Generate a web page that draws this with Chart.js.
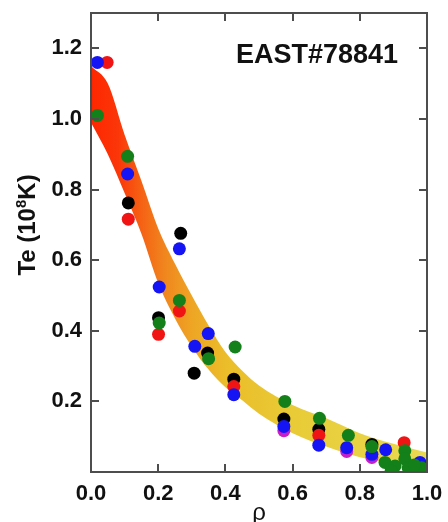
<!DOCTYPE html>
<html><head><meta charset="utf-8">
<script src="https://cdn.jsdelivr.net/npm/chart.js@4/dist/chart.umd.min.js"></script>
<style>html,body{margin:0;padding:0;background:#fff}#wrap{width:448px;height:522px}</style>
</head><body><div id="wrap"><canvas id="c" width="448" height="522"></canvas></div>
<script>
// ---- data ----
const xTicks = [0.0, 0.2, 0.4, 0.6, 0.8, 1.0];
const yTicks = [0.2, 0.4, 0.6, 0.8, 1.0, 1.2];
const shotLabel = 'EAST#78841';

// fitted band (upper / lower edge)
const bandRho   = [0, 0.05, 0.1, 0.15, 0.2, 0.25, 0.3, 0.35, 0.4, 0.45, 0.5, 0.6, 0.7, 0.8, 0.9, 1.0];
const bandUpper = [1.15, 1.10, 0.955, 0.825, 0.69, 0.59, 0.50, 0.415, 0.34, 0.287, 0.245, 0.19, 0.152, 0.11, 0.08, 0.055];
const bandLower = [0.99, 0.90, 0.79, 0.675, 0.535, 0.435, 0.355, 0.29, 0.24, 0.203, 0.165, 0.11, 0.072, 0.042, 0.026, 0.012];

// measured points
const blackRho = [0.111, 0.267, 0.201, 0.347, 0.307, 0.425, 0.574, 0.678, 0.836];
const blackTe  = [0.762, 0.676, 0.437, 0.337, 0.280, 0.263, 0.150, 0.121, 0.078];
const redRho   = [0.048, 0.111, 0.263, 0.201, 0.425, 0.678, 0.932];
const redTe    = [1.160, 0.716, 0.456, 0.390, 0.242, 0.104, 0.083];
const blueRho  = [0.019, 0.109, 0.263, 0.203, 0.309, 0.349, 0.425, 0.574, 0.678, 0.761, 0.836, 0.877, 0.979];
const blueTe   = [1.160, 0.844, 0.632, 0.524, 0.356, 0.392, 0.219, 0.129, 0.076, 0.069, 0.050, 0.063, 0.027];
const greenRho = [0.019, 0.109, 0.263, 0.203, 0.350, 0.429, 0.577, 0.680, 0.766, 0.836, 0.934, 0.875, 0.905, 0.934, 0.944, 0.984, 0.893, 0.962];
const greenTe  = [1.010, 0.894, 0.486, 0.422, 0.321, 0.354, 0.200, 0.152, 0.104, 0.072, 0.060, 0.027, 0.017, 0.037, 0.012, 0.012, 0.003, 0.020];
const magRho   = [0.574, 0.761, 0.836];
const magTe    = [0.117, 0.058, 0.041];

const FONT = '"Liberation Sans", Arial, sans-serif';
const pts = (xs, ys) => xs.map((x, i) => ({x, y: ys[i]}));

function bandGradient(ctx) {
  const ca = ctx.chart.chartArea;
  if (!ca) return '#f0a020';
  const g = ctx.chart.ctx.createLinearGradient(ca.left, 0, ca.right, 0);
  g.addColorStop(0.00, '#ff2600');
  g.addColorStop(0.08, '#fb3608');
  g.addColorStop(0.15, '#f56214');
  g.addColorStop(0.22, '#f0861e');
  g.addColorStop(0.30, '#eea524');
  g.addColorStop(0.40, '#ebbd2a');
  g.addColorStop(0.60, '#e8cb36');
  g.addColorStop(1.00, '#eada52');
  return g;
}

const dot = (label, xs, ys, color, order) => ({
  label, data: pts(xs, ys), backgroundColor: color, borderColor: color,
  pointRadius: 6.5, pointBorderWidth: 0, showLine: false, order
});

const framePlugin = {
  id: 'frame',
  afterDatasetsDraw(chart) {
    const {ctx, chartArea: a, scales: {x, y}} = chart;
    ctx.save();
    ctx.strokeStyle = '#4d4d4d';
    ctx.lineWidth = 2;
    ctx.strokeRect(a.left, a.top, a.right - a.left, a.bottom - a.top);
    const L = 8;
    ctx.beginPath();
    xTicks.forEach(v => {
      const px = Math.round(x.getPixelForValue(v));
      ctx.moveTo(px, a.bottom); ctx.lineTo(px, a.bottom - L);
      ctx.moveTo(px, a.top); ctx.lineTo(px, a.top + L);
    });
    yTicks.forEach(v => {
      const py = Math.round(y.getPixelForValue(v));
      ctx.moveTo(a.left, py); ctx.lineTo(a.left + L, py);
      ctx.moveTo(a.right, py); ctx.lineTo(a.right - L, py);
    });
    ctx.stroke();
    // shot label
    ctx.fillStyle = '#111';
    ctx.font = 'bold 27px ' + FONT;
    ctx.textAlign = 'right';
    ctx.textBaseline = 'alphabetic';
    ctx.fillText(shotLabel, a.right - 29, 63);
    // y title with superscript
    const big = 'bold 24px ' + FONT, small = 'bold 15px ' + FONT;
    const p1 = 'Te (10', p2 = '8', p3 = 'K)';
    ctx.font = big; const w1 = ctx.measureText(p1).width, w3 = ctx.measureText(p3).width;
    ctx.font = small; const w2 = ctx.measureText(p2).width;
    const W = w1 + w2 + w3;
    ctx.translate(35, 225);
    ctx.rotate(-Math.PI / 2);
    ctx.textAlign = 'left';
    let cx = -W / 2;
    ctx.font = big; ctx.fillText(p1, cx, 0); cx += w1;
    ctx.font = small; ctx.fillText(p2, cx, -9); cx += w2;
    ctx.font = big; ctx.fillText(p3, cx, 0);
    ctx.restore();
  }
};

new Chart(document.getElementById('c'), {
  type: 'scatter',
  data: {
    datasets: [
      { label: 'band upper', data: pts(bandRho, bandUpper), showLine: true, pointRadius: 0,
        borderWidth: 0, borderColor: 'rgba(0,0,0,0)', cubicInterpolationMode: 'monotone',
        fill: '+1', backgroundColor: bandGradient, order: 20 },
      { label: 'band lower', data: pts(bandRho, bandLower), showLine: true, pointRadius: 0,
        borderWidth: 0, borderColor: 'rgba(0,0,0,0)', cubicInterpolationMode: 'monotone',
        fill: false, order: 21 },
      dot('magenta', magRho, magTe, '#c81ec8', 6),
      dot('black', blackRho, blackTe, '#000000', 5),
      dot('red', redRho, redTe, '#f01414', 4),
      dot('blue', blueRho, blueTe, '#1414f5', 3),
      dot('green', greenRho, greenTe, '#13801a', 2)
    ]
  },
  options: {
    responsive: false, animation: false, devicePixelRatio: 1, events: [],
    layout: { padding: { top: 13, right: 21, left: 0, bottom: 0 } },
    plugins: { legend: { display: false }, tooltip: { enabled: false } },
    scales: {
      x: {
        type: 'linear', min: 0, max: 1, position: 'bottom',
        grid: { display: false, drawTicks: false }, border: { display: false },
        afterBuildTicks: s => { s.ticks = xTicks.map(v => ({value: v})); },
        afterFit: s => { s.height = 50; s.paddingLeft = 0; s.paddingRight = 0; },
        ticks: { color: '#111', padding: 9, font: { family: FONT, size: 22, weight: 'bold' },
                 callback: v => Number(v).toFixed(1), maxRotation: 0 },
        title: { display: true, text: 'ρ', color: '#111', padding: { top: -6, bottom: -6 },
                 font: { family: FONT, size: 24 } }
      },
      y: {
        type: 'linear', min: 0, max: 1.3,
        grid: { display: false, drawTicks: false }, border: { display: false },
        afterBuildTicks: s => { s.ticks = yTicks.map(v => ({value: v})); },
        afterFit: s => { s.width = 91; s.paddingTop = 0; s.paddingBottom = 0; },
        ticks: { color: '#111', padding: 9, font: { family: FONT, size: 22, weight: 'bold' },
                 callback: v => Number(v).toFixed(1) }
      }
    }
  },
  plugins: [framePlugin]
});
</script></body></html>
